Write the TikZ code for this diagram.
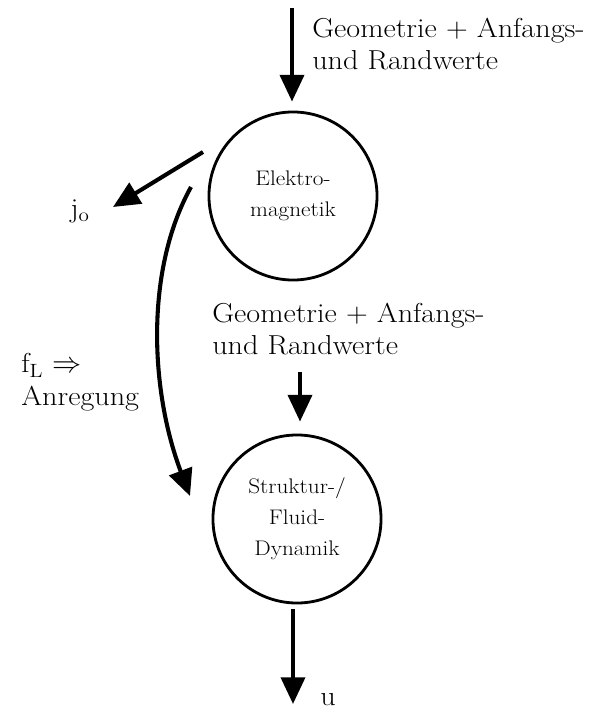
\documentclass[tikz,border=0pt]{standalone}
\usepackage{amsmath,amssymb}
\usepackage{fontspec}
\setmainfont{Latin Modern Roman}[FakeStretch=1.1]
\usepackage{tikz}
\usetikzlibrary{arrows.meta,positioning,calc}
\tikzset{
    block/.style={circle, draw, line width=2pt, minimum size=4.2cm, inner sep=0pt, align=center, font=\fontsize{15}{22}\selectfont},
    lbl/.style={inner sep=0pt, align=left, font=\fontsize{19.5}{23}\selectfont},
    flow/.style={draw, line width=2.9pt, -{Triangle[length=19pt,width=17pt]}},
}
\begin{document}
\begin{tikzpicture}[x=0.025cm, y=-0.025cm]
    \useasboundingbox (0,0) rectangle (590,713);

    % the two solvers
    \node[block] (em) at (293,196) {Elektro-\\magnetik};
    \node[block] (sfd) at (297,519) {Struktur-/\\Fluid-\\Dynamik};

    % texts
    \node[lbl, anchor=west] (geo1) at (312,44) {Geometrie + Anfangs-\\und Randwerte};
    \node[lbl, anchor=west] (geo2) at (212,329) {Geometrie + Anfangs-\\und Randwerte};
    \node[lbl] (jo) at (80,211) {j\textsubscript{o}};
    \node[lbl, anchor=west] (fl) at (21,382) {f\textsubscript{L} $\Rightarrow$\\Anregung};
    \node[lbl] (u) at (328,700) {u};

    \coordinate (in1) at (292,8);
    \coordinate (in2) at (300,372);
    \coordinate (out) at (293,704);
    \coordinate (js) at (203,152);
    \coordinate (jt) at (113,207);
    \coordinate (fs) at (191,187);
    \coordinate (ft) at (190,496);

    \draw[flow, shorten >=9*0.025cm] (in1) -- (in1 |- em.north);
    \draw[flow, shorten >=12*0.025cm] (in2) -- (in2 |- sfd.north);
    \draw[flow, shorten <=5*0.025cm] (out |- sfd.south) -- (out);
    \draw[flow] (js) -- (jt);
    \draw[flow] (fs) .. controls (145,270) and (150,390) .. (ft);
\end{tikzpicture}
\end{document}
